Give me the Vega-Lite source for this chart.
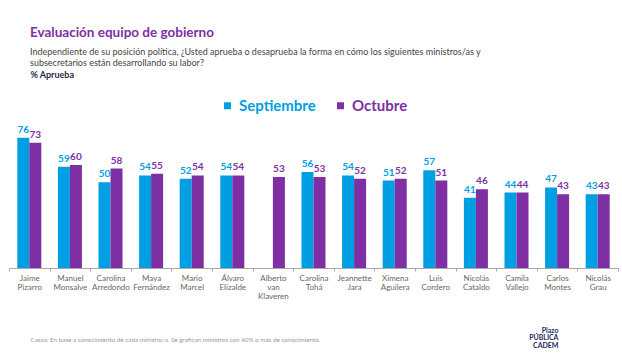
{
  "$schema": "https://vega.github.io/schema/vega-lite/v6.json",
  "width": 609,
  "height": 143,
  "autosize": {"type": "none"},
  "padding": {"left": 9, "top": 125, "right": 4, "bottom": 86},
  "background": "white",
  "config": {"font": "Lato", "view": {"stroke": null}},
  "title": {
    "text": "Evaluación equipo de gobierno",
    "subtitle": [
      "Independiente de su posición política, ¿Usted aprueba o desaprueba la forma en cómo los siguientes ministros/as y",
      "subsecretarios están desarrollando su labor?"
    ],
    "anchor": "start",
    "frame": "group",
    "dx": 21,
    "offset": 2,
    "font": "Lato",
    "fontSize": 13.5,
    "fontWeight": "bold",
    "color": "#7E2FA3",
    "subtitleFont": "Lato",
    "subtitleFontSize": 9,
    "subtitleColor": "#444444",
    "subtitleLineHeight": 11.5,
    "subtitlePadding": 8
  },
  "data": {
    "values": [
      {"name": "Jaime Pizarro", "serie": "Septiembre", "value": 76},
      {"name": "Jaime Pizarro", "serie": "Octubre", "value": 73},
      {"name": "Manuel Monsalve", "serie": "Septiembre", "value": 59},
      {"name": "Manuel Monsalve", "serie": "Octubre", "value": 60},
      {"name": "Carolina Arredondo", "serie": "Septiembre", "value": 50},
      {"name": "Carolina Arredondo", "serie": "Octubre", "value": 58},
      {"name": "Maya Fernández", "serie": "Septiembre", "value": 54},
      {"name": "Maya Fernández", "serie": "Octubre", "value": 55},
      {"name": "Mario Marcel", "serie": "Septiembre", "value": 52},
      {"name": "Mario Marcel", "serie": "Octubre", "value": 54},
      {"name": "Álvaro Elizalde", "serie": "Septiembre", "value": 54},
      {"name": "Álvaro Elizalde", "serie": "Octubre", "value": 54},
      {"name": "Alberto van Klaveren", "serie": "Octubre", "value": 53},
      {"name": "Carolina Tohá", "serie": "Septiembre", "value": 56},
      {"name": "Carolina Tohá", "serie": "Octubre", "value": 53},
      {"name": "Jeannette Jara", "serie": "Septiembre", "value": 54},
      {"name": "Jeannette Jara", "serie": "Octubre", "value": 52},
      {"name": "Ximena Aguilera", "serie": "Septiembre", "value": 51},
      {"name": "Ximena Aguilera", "serie": "Octubre", "value": 52},
      {"name": "Luis Cordero", "serie": "Septiembre", "value": 57},
      {"name": "Luis Cordero", "serie": "Octubre", "value": 51},
      {"name": "Nicolás Cataldo", "serie": "Septiembre", "value": 41},
      {"name": "Nicolás Cataldo", "serie": "Octubre", "value": 46},
      {"name": "Camila Vallejo", "serie": "Septiembre", "value": 44},
      {"name": "Camila Vallejo", "serie": "Octubre", "value": 44},
      {"name": "Carlos Montes", "serie": "Septiembre", "value": 47},
      {"name": "Carlos Montes", "serie": "Octubre", "value": 43},
      {"name": "Nicolás Grau", "serie": "Septiembre", "value": 43},
      {"name": "Nicolás Grau", "serie": "Octubre", "value": 43}
    ]
  },
  "encoding": {
    "x": {
      "field": "name",
      "type": "nominal",
      "sort": null,
      "scale": {"paddingInner": 0, "paddingOuter": 0},
      "axis": {
        "title": "Casos: En base a conocimiento de cada ministro/a. Se grafican ministros con 40% o más de conocimiento.",
        "titleX": 21,
        "titleY": 71,
        "titleAlign": "left",
        "titleAnchor": null,
        "titleBaseline": "middle",
        "titleFontSize": 6.3,
        "titleFontWeight": "normal",
        "titleColor": "#999999",
        "labelExpr": "split(datum.label, ' ')",
        "labelAngle": 0,
        "labelFontSize": 8,
        "labelColor": "#666666",
        "labelLineHeight": 9.3,
        "labelPadding": 3,
        "labelOverlap": false,
        "labelBaseline": "top",
        "tickBand": "extent",
        "tickSize": 3,
        "tickColor": "#aaaaaa",
        "domainColor": "#aaaaaa"
      }
    },
    "xOffset": {
      "field": "serie",
      "type": "nominal",
      "sort": ["Septiembre", "Octubre"],
      "scale": {"domain": ["Septiembre", "Octubre"], "paddingInner": 0, "paddingOuter": 0.69}
    },
    "color": {
      "field": "serie",
      "type": "nominal",
      "scale": {"domain": ["Septiembre", "Octubre"], "range": ["#009FE3", "#7E2FA3"]},
      "legend": {
        "orient": "none",
        "legendX": 211,
        "legendY": -27,
        "direction": "horizontal",
        "title": null,
        "symbolType": "square",
        "symbolSize": 49,
        "symbolStrokeWidth": 0,
        "labelFontSize": 15,
        "labelFontWeight": "bold",
        "labelFont": "Lato",
        "labelOffset": 4,
        "columnPadding": 17,
        "encode": {
          "labels": {"update": {"fill": {"signal": "datum.value === 'Septiembre' ? '#009FE3' : '#7E2FA3'"}}}
        }
      }
    }
  },
  "layer": [
    {
      "mark": {"type": "bar"},
      "encoding": {
        "y": {
          "field": "value",
          "type": "quantitative",
          "scale": {"domain": [0, 83.4], "nice": false},
          "axis": {
            "title": "% Aprueba",
            "titleAngle": 0,
            "titleAlign": "left",
            "titleBaseline": "middle",
            "titleX": 21,
            "titleY": -51,
            "titleFontSize": 9,
            "titleFontWeight": "bold",
            "titleColor": "#1F2A44",
            "domain": false,
            "ticks": false,
            "labels": false,
            "grid": false
          }
        }
      }
    },
    {
      "mark": {"type": "text", "baseline": "alphabetic", "dy": -5, "fontSize": 10, "fontWeight": "bold"},
      "encoding": {
        "text": {"field": "value", "type": "quantitative"},
        "y": {
          "field": "value",
          "type": "quantitative",
          "axis": {
            "orient": "right",
            "title": ["Plazo", "PÚBLICA", "CADEM"],
            "titleAngle": 0,
            "titleAlign": "right",
            "titleBaseline": "top",
            "titleX": -60,
            "titleY": 201,
            "titleFontSize": 7,
            "titleLineHeight": 7.5,
            "titleFontWeight": "bold",
            "titleColor": "#1B2A5C",
            "domain": false,
            "ticks": false,
            "labels": false,
            "grid": false
          }
        }
      }
    }
  ],
  "resolve": {"axis": {"y": "independent"}}
}
